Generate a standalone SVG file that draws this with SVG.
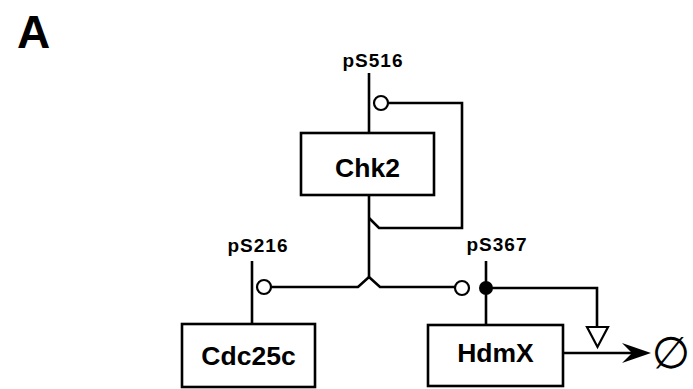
<svg xmlns="http://www.w3.org/2000/svg" width="693" height="389" viewBox="0 0 693 389">
<style>
.box{fill:#fff;stroke:#000;stroke-width:2.6}
.ln{fill:none;stroke:#000;stroke-width:2.6}
.oc{fill:#fff;stroke:#000;stroke-width:2.2}
.name{font-family:"Liberation Sans",Arial,sans-serif;font-weight:bold;font-size:26.5px;text-anchor:middle;fill:#000}
.ps{font-family:"Liberation Sans",Arial,sans-serif;font-weight:bold;font-size:19px;letter-spacing:1px;text-anchor:middle;fill:#000}
</style>
<rect width="693" height="389" fill="#fff"/>
<text x="17" y="48" font-family="Liberation Sans, Arial, sans-serif" font-weight="bold" font-size="46">A</text>
<g id="connectors">
  <line class="ln" x1="369" y1="73" x2="369" y2="133"/>
  <path class="ln" d="M388,103 H462 V228 H379 L369,218"/>
  <line class="ln" x1="369" y1="195" x2="369" y2="278"/>
  <path class="ln" d="M271,287 H358 L369,277 L380,287 H455"/>
  <line class="ln" x1="252" y1="261" x2="252" y2="324"/>
  <line class="ln" x1="486" y1="261" x2="486" y2="325"/>
  <path class="ln" d="M486,288 H597 V327"/>
  <polygon points="587,327 608,327 597.5,347" fill="#fff" stroke="#000" stroke-width="2.2" stroke-linejoin="miter"/>
  <line class="ln" x1="563" y1="353" x2="636" y2="353"/>
  <polygon points="651,353 622,343 632,353 622,363" fill="#000"/>
  <circle class="oc" cx="381" cy="103" r="7"/>
  <circle class="oc" cx="264" cy="287" r="7"/>
  <circle class="oc" cx="462" cy="288" r="7"/>
  <circle cx="486" cy="288" r="7" fill="#000"/>
</g>
<g id="Chk2">
  <rect class="box" x="301" y="133" width="133" height="62"/>
  <text class="name" x="367.5" y="177">Chk2</text>
  <text class="ps" x="373" y="67">pS516</text>
</g>
<g id="Cdc25c">
  <rect class="box" x="182" y="324" width="133" height="63"/>
  <text class="name" x="248.5" y="365">Cdc25c</text>
  <text class="ps" x="258" y="252">pS216</text>
</g>
<g id="HdmX">
  <rect class="box" x="428" y="325" width="135" height="61"/>
  <text class="name" x="495.5" y="362">HdmX</text>
  <text class="ps" x="497" y="251">pS367</text>
</g>
<g id="degradation">
  <text x="671" y="368" font-family="DejaVu Sans, sans-serif" font-size="44" text-anchor="middle">∅</text>
</g>
</svg>
